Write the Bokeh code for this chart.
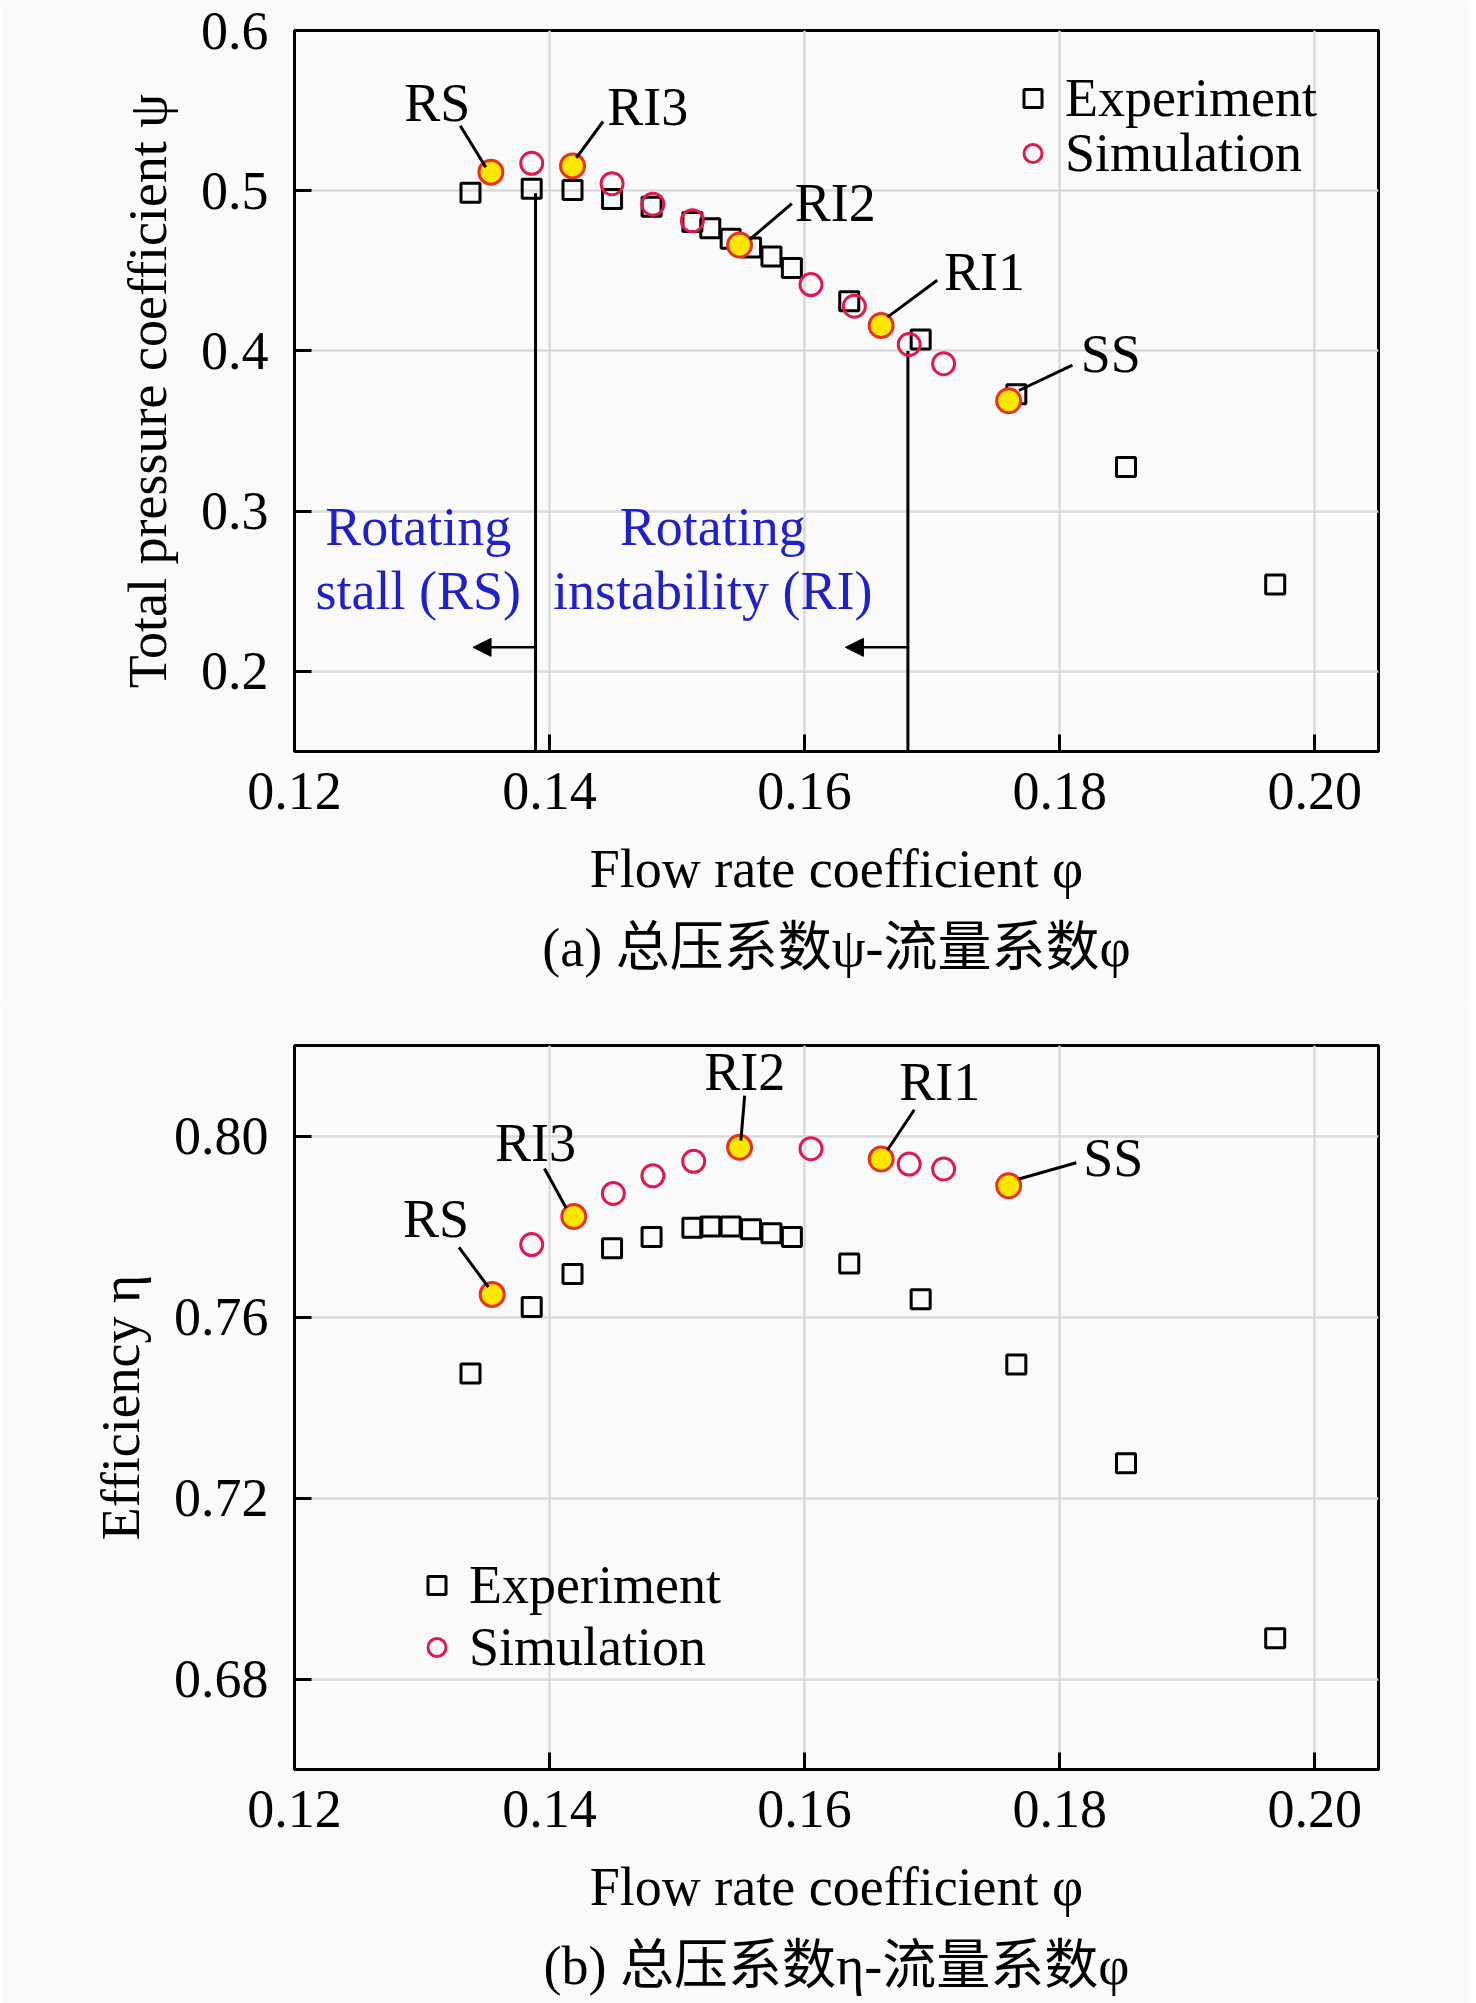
from bokeh.plotting import figure
from bokeh.models import (FixedTicker, PrintfTickFormatter, Legend, LegendItem, Arrow,
                          NormalHead, Title, ColumnDataSource, Range1d)
from bokeh.layouts import column
from bokeh.embed import file_html
from bokeh.resources import INLINE
from bokeh.core.properties import value

SERIF = "Liberation Serif"
CAP_FONT = "Liberation Serif, Noto Sans CJK SC"
FS = "54px"

# ---------------- data ----------------
x_ticks = [0.12, 0.14, 0.16, 0.18, 0.20]
psi_ticks = [0.2, 0.3, 0.4, 0.5, 0.6]
eta_ticks = [0.68, 0.72, 0.76, 0.80]

phi_exp = [0.1338, 0.1386, 0.1418, 0.1449, 0.1480, 0.1512, 0.1526, 0.1542,
           0.1558, 0.1574, 0.1590, 0.1635, 0.1691, 0.1766, 0.1852, 0.1969]
psi_exp = [0.4988, 0.5012, 0.5004, 0.4948, 0.4900, 0.4805, 0.4765, 0.4700,
           0.4645, 0.4590, 0.4518, 0.4310, 0.4072, 0.3730, 0.3275, 0.2542]
eta_exp = [0.7475, 0.7622, 0.7695, 0.7752, 0.7777, 0.7797, 0.7800, 0.7800,
           0.7794, 0.7785, 0.7777, 0.7718, 0.7639, 0.7495, 0.7277, 0.6890]

phi_sim_a = [0.1354, 0.1386, 0.1418, 0.1449, 0.1481, 0.1512, 0.1549, 0.1605,
             0.1639, 0.1660, 0.1682, 0.1709, 0.1760]
psi_sim = [0.5116, 0.5171, 0.5155, 0.5044, 0.4916, 0.4813, 0.4661, 0.4414,
           0.4279, 0.4159, 0.4040, 0.3920, 0.3689]
key_a = [1, 0, 1, 0, 0, 0, 1, 0, 0, 1, 0, 0, 1]

phi_sim_b = [0.1355, 0.1386, 0.1419, 0.1450, 0.1481, 0.1513, 0.1549, 0.1605,
             0.1660, 0.1682, 0.1709, 0.1760]
eta_sim = [0.7650, 0.7760, 0.7822, 0.7873, 0.7912, 0.7944, 0.7975, 0.7972,
           0.7949, 0.7938, 0.7927, 0.7890]
key_b = [1, 0, 1, 0, 0, 0, 1, 0, 1, 0, 0, 1]

key_names = ["RS", "RI3", "RI2", "RI1", "SS"]
lab_a_x = [0.1312, 0.1477, 0.1624, 0.1741, 0.1840]
lab_a_y = [0.5546, 0.5522, 0.4924, 0.4494, 0.3984]
lead_a_x0 = [0.1330, 0.1442, 0.1590, 0.1704, 0.1810]
lead_a_y0 = [0.5405, 0.5432, 0.4919, 0.4441, 0.3912]
lead_a_x1 = [0.1350, 0.1421, 0.1557, 0.1665, 0.1768]
lead_a_y1 = [0.5146, 0.5205, 0.4696, 0.4211, 0.3753]

lab_b_x = [0.1311, 0.1389, 0.1553, 0.1706, 0.1842]
lab_b_y = [0.7817, 0.7984, 0.8142, 0.8119, 0.7952]
lead_b_x0 = [0.1329, 0.1396, 0.1553, 0.1686, 0.1813]
lead_b_y0 = [0.7754, 0.7928, 0.8089, 0.8058, 0.7941]
lead_b_x1 = [0.1352, 0.1413, 0.1550, 0.1665, 0.1768]
lead_b_y1 = [0.7666, 0.7841, 0.7990, 0.7969, 0.7905]

region_x = [0.1297, 0.1528]
region_l1 = ["Rotating", "Rotating"]
region_l2 = ["stall (RS)", "instability (RI)"]
region_y1 = [0.2900, 0.2900]
region_y2 = [0.2500, 0.2500]
boundary_x = [0.1389, 0.1681]
boundary_top = [0.4984, 0.4000]
boundary_bot = [0.15, 0.15]
arrow_tip_x = [0.1340, 0.1632]
arrow_y = [0.2150, 0.2150]

SQ_COLOR = "black"
CIRC_COLOR = "#e0194f"
KEY_FILL = "#ffe600"
KEY_LINE = "#e8321e"
BG = "#fafafa"


def make_fig(yr, yticks, yfmt, ylabel, caption, top_border, fh, bottom_border):
    p = figure(frame_width=1084, frame_height=fh,
               x_range=Range1d(0.12, 0.205), y_range=yr,
               output_backend="svg", toolbar_location=None,
               min_border_left=294, min_border_right=90,
               min_border_top=top_border, min_border_bottom=bottom_border,
               background_fill_color=BG, border_fill_color=BG)
    p.outline_line_color = "black"
    p.outline_line_width = 3
    p.xaxis.ticker = FixedTicker(ticks=x_ticks)
    p.yaxis.ticker = FixedTicker(ticks=yticks)
    p.xaxis.formatter = PrintfTickFormatter(format="%.2f")
    p.yaxis.formatter = PrintfTickFormatter(format=yfmt)
    for ax in (p.xaxis, p.yaxis):
        ax.axis_line_width = 3
        ax.axis_line_color = "black"
        ax.major_tick_in = 17
        ax.major_tick_out = 0
        ax.major_tick_line_width = 3
        ax.minor_tick_line_color = None
        ax.major_label_text_font = SERIF
        ax.major_label_text_font_size = FS
        ax.major_label_text_color = "black"
        ax.axis_label_text_font = SERIF
        ax.axis_label_text_font_size = FS
        ax.axis_label_text_font_style = "normal"
        ax.axis_label_text_color = "black"
    p.xaxis.major_label_standoff = 21
    p.yaxis.major_label_standoff = 26
    p.xaxis.axis_label_standoff = 27
    p.yaxis.axis_label_standoff = 20
    p.xaxis.axis_label = "Flow rate coefficient φ"
    p.yaxis.axis_label = ylabel
    p.grid.grid_line_color = "#dadada"
    p.grid.grid_line_width = 2.5
    cap = Title(text=caption, align="center", text_font=CAP_FONT, text_font_size=FS,
                text_font_style="normal", text_color="black", standoff=28)
    p.add_layout(cap, "below")
    return p


def add_points(p, xe, ye, xs, ys, keys):
    r_exp = p.scatter(xe, ye, marker="square", size=19, fill_color=None,
                      line_color=SQ_COLOR, line_width=3)
    r_sim = p.scatter(xs, ys, marker="circle", size=22, fill_color=None,
                      line_color=CIRC_COLOR, line_width=3)
    kx = [x for x, k in zip(xs, keys) if k]
    ky = [y for y, k in zip(ys, keys) if k]
    p.scatter(kx, ky, marker="circle", size=24, fill_color=KEY_FILL,
              line_color=KEY_LINE, line_width=3)
    return r_exp, r_sim


def add_keys(p, lx, ly, x0, y0, x1, y1):
    p.segment(x0=x0, y0=y0, x1=x1, y1=y1, line_color="black", line_width=3)
    p.text(x=lx, y=ly, text=key_names, text_font=value(SERIF), text_font_size=value(FS),
           text_align="center", text_baseline="middle", text_color="black")


def add_legend(p, items, loc):
    lg = Legend(items=[LegendItem(label=lab, renderers=[r]) for lab, r in items],
                location=loc, label_text_font=SERIF, label_text_font_size=FS,
                label_text_color="black", glyph_width=45, glyph_height=60,
                label_standoff=10, spacing=0, padding=0, margin=0,
                border_line_color=None, background_fill_alpha=0)
    p.add_layout(lg)


# ---------------- (a) ----------------
pa = make_fig(Range1d(0.15, 0.6), psi_ticks, "%.1f", "Total pressure coefficient ψ",
              "(a) 总压系数ψ-流量系数φ", 30, 721, 250)
pa.segment(x0=boundary_x, y0=boundary_top, x1=boundary_x, y1=boundary_bot,
           line_color="black", line_width=3)
arr_src = ColumnDataSource(dict(x0=boundary_x, y=arrow_y, x1=arrow_tip_x))
pa.add_layout(Arrow(end=NormalHead(size=18, fill_color="black", line_color="black", line_width=1),
                    x_start="x0", y_start="y", x_end="x1", y_end="y", source=arr_src,
                    line_width=2.5, line_color="black"))
pa.text(x=region_x, y=region_y1, text=region_l1, text_font=value(SERIF), text_font_size=value(FS),
        text_align="center", text_baseline="middle", text_color="#1f1fcc")
pa.text(x=region_x, y=region_y2, text=region_l2, text_font=value(SERIF), text_font_size=value(FS),
        text_align="center", text_baseline="middle", text_color="#1f1fcc")
ra_e, ra_s = add_points(pa, phi_exp, psi_exp, phi_sim_a, psi_sim, key_a)
add_keys(pa, lab_a_x, lab_a_y, lead_a_x0, lead_a_y0, lead_a_x1, lead_a_y1)
add_legend(pa, [("Experiment", ra_e)], (716, 622))
add_legend(pa, [("Simulation", ra_s)], (716, 567))

# ---------------- (b) ----------------
pb = make_fig(Range1d(0.66, 0.82), eta_ticks, "%.2f", "Efficiency η",
              "(b) 总压系数η-流量系数φ", 44, 724, 220)
rb_e, rb_s = add_points(pb, phi_exp, eta_exp, phi_sim_b, eta_sim, key_b)
add_keys(pb, lab_b_x, lab_b_y, lead_b_x0, lead_b_y0, lead_b_x1, lead_b_y1)
add_legend(pb, [("Experiment", rb_e), ("Simulation", rb_s)], (120, 91))

layout = column(pa, pb, spacing=0)
open("out.html", "w").write(file_html(layout, INLINE))
